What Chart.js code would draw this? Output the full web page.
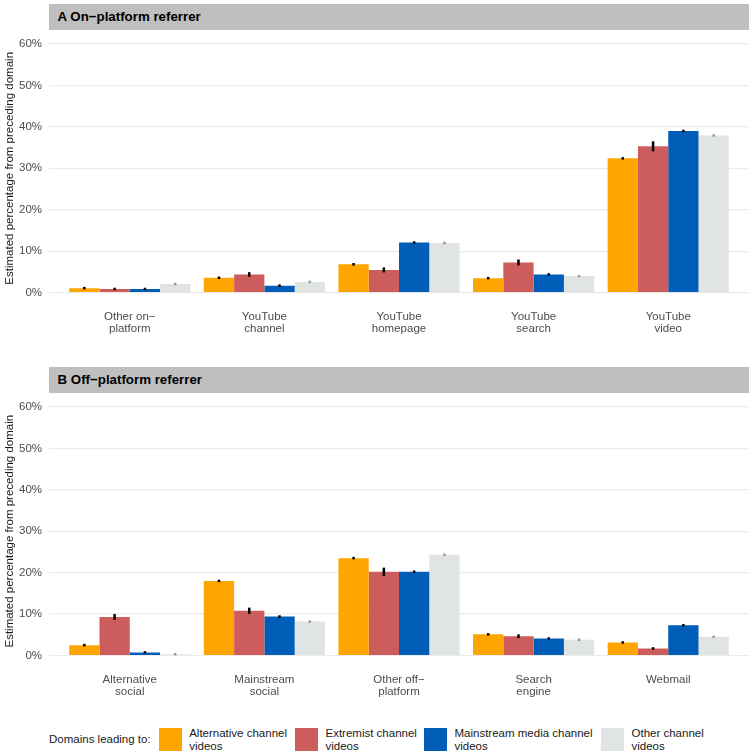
<!doctype html>
<html lang="en">
  <head>
    <meta charset="utf-8">
    <title>Referrer domains</title>
    <style>
      * { margin: 0; padding: 0; font-family: "Liberation Sans", Arial, sans-serif; }
      body { width: 753px; height: 755px; background: #fff; position: relative; overflow: hidden; }
      .strip {
        position: absolute; left: 49px; width: 700px; height: 25.5px;
        background: #BFBFBF; color: #000; font-weight: bold; font-size: 13.3px;
        line-height: 25.5px; padding-left: 8.5px; box-sizing: border-box;
      }
      .box { position: absolute; left: 0; width: 753px; }
      .legend { position: absolute; top: 728px; left: 0; width: 753px; height: 24px; font-size: 11.5px; color: #1a1a1a; }
      .legend .key { position: absolute; top: 0; width: 23px; height: 23px; }
      .legend .lab { position: absolute; top: -1px; line-height: 12.7px; }
      .legend .head { position: absolute; left: 49px; top: 5px; }
    </style>
  </head>
  <body>
    <div class="strip" style="top:4px">A On−platform referrer</div>
    <div class="box" style="top:30px;height:330px"><canvas id="panelA"></canvas></div>
    <div class="strip" style="top:367px">B Off−platform referrer</div>
    <div class="box" style="top:393px;height:330px"><canvas id="panelB"></canvas></div>
    <div class="legend" id="legend">
      <div class="head">Domains leading to:</div>
    </div>
    <script src="https://cdn.jsdelivr.net/npm/chart.js/dist/chart.umd.min.js"></script>
    <script>
    // categories
    const groupsA = [['Other on−', 'platform'], ['YouTube', 'channel'], ['YouTube', 'homepage'], ['YouTube', 'search'], ['YouTube', 'video']];
    const groupsB = [['Alternative', 'social'], ['Mainstream', 'social'], ['Other off−', 'platform'], ['Search', 'engine'], ['Webmail']];

    const seriesNames = [['Alternative channel', 'videos'], ['Extremist channel', 'videos'], ['Mainstream media channel', 'videos'], ['Other channel', 'videos']];
    const seriesColors = ['#FFA500', '#CD5C5C', '#005EB8', '#E1E4E4'];
    const errColors = ['#000', '#000', '#000', '#9a9a9a'];

    // panel A values (%)
    const altA   = [1.1, 3.6, 6.85, 3.5, 32.4];
    const extA   = [0.9, 4.4, 5.5, 7.3, 35.3];
    const mainA  = [0.9, 1.7, 12.1, 4.4, 39.0];
    const otherA = [2.1, 2.6, 12.0, 4.0, 37.9];
    // panel A error half-widths
    const altErrA   = [0.15, 0.2, 0.2, 0.15, 0.3];
    const extErrA   = [0.2, 0.55, 0.6, 0.7, 1.2];
    const mainErrA  = [0.1, 0.1, 0.2, 0.15, 0.3];
    const otherErrA = [0.05, 0.05, 0.05, 0.05, 0.1];

    // panel B values (%)
    const altB   = [2.5, 18.0, 23.5, 5.1, 3.15];
    const extB   = [9.3, 10.8, 20.2, 4.65, 1.7];
    const mainB  = [0.75, 9.4, 20.2, 4.1, 7.3];
    const otherB = [0.3, 8.2, 24.3, 3.8, 4.5];
    // panel B error half-widths
    const altErrB   = [0.15, 0.3, 0.3, 0.15, 0.15];
    const extErrB   = [0.7, 0.75, 1.0, 0.45, 0.3];
    const mainErrB  = [0.1, 0.15, 0.25, 0.15, 0.2];
    const otherErrB = [0.05, 0.05, 0.05, 0.05, 0.05];

    const yTicks = [0, 10, 20, 30, 40, 50, 60];

    const FONT = '"Liberation Sans", Arial, sans-serif';

    // error bars drawn on top of the bars
    const errorBars = {
      id: 'errorBars',
      afterDatasetsDraw(chart) {
        const {ctx, scales: {y}} = chart;
        ctx.save();
        chart.data.datasets.forEach((ds, d) => {
          const meta = chart.getDatasetMeta(d);
          meta.data.forEach((bar, i) => {
            const v = ds.data[i].y, e = ds.errors[i];
            let top = y.getPixelForValue(v + e), bot = y.getPixelForValue(v - e);
            if (bot - top < 2.5) { const m = (top + bot) / 2; top = m - 1.25; bot = m + 1.25; }
            ctx.strokeStyle = errColors[d];
            ctx.lineWidth = 2.5;
            ctx.beginPath();
            ctx.moveTo(bar.x, top);
            ctx.lineTo(bar.x, bot);
            ctx.stroke();
          });
        });
        ctx.restore();
      }
    };

    function makePanel(id, groups, values, errors, xHeight) {
      const datasets = values.map((vals, s) => ({
        label: seriesNames[s].join(' '),
        data: vals.map((v, i) => ({x: i + 1, y: v})),
        errors: errors[s],
        backgroundColor: seriesColors[s],
        borderWidth: 0,
        categoryPercentage: 0.9,
        barPercentage: 1.0
      }));
      return new Chart(document.getElementById(id), {
        type: 'bar',
        data: {datasets},
        options: {
          responsive: true,
          maintainAspectRatio: false,
          animation: false,
          layout: {padding: {top: 11.3, right: 4, left: 0, bottom: 0}},
          plugins: {legend: {display: false}, tooltip: {enabled: false}},
          scales: {
            x: {
              type: 'linear',
              offset: false,
              min: 0.4,
              max: 5.6,
              afterBuildTicks(scale) { scale.ticks = [1, 2, 3, 4, 5].map(v => ({value: v})); },
              afterFit(scale) { scale.height = xHeight; },
              grid: {display: false, drawTicks: false},
              border: {display: false},
              ticks: {
                autoSkip: false,
                maxRotation: 0,
                padding: 18,
                color: '#4D4D4D',
                font: {family: FONT, size: 11.5, lineHeight: 1.05},
                callback: v => groups[v - 1]
              }
            },
            y: {
              min: 0,
              max: 60,
              afterBuildTicks(scale) { scale.ticks = yTicks.map(v => ({value: v})); },
              afterFit(scale) { scale.width = 49; },
              grid: {color: '#EBEBEB', lineWidth: 1.2, drawTicks: false},
              border: {display: false},
              ticks: {
                padding: 7,
                color: '#4D4D4D',
                font: {family: FONT, size: 11.5},
                callback: v => v + '%'
              },
              title: {
                display: true,
                text: 'Estimated percentage from preceding domain',
                color: '#1a1a1a',
                font: {family: FONT, size: 11.5},
                padding: {top: 3, bottom: 2}
              }
            }
          }
        },
        plugins: [errorBars]
      });
    }

    makePanel('panelA', groupsA, [altA, extA, mainA, otherA], [altErrA, extErrA, mainErrA, otherErrA], 67.3);
    makePanel('panelB', groupsB, [altB, extB, mainB, otherB], [altErrB, extErrB, mainErrB, otherErrB], 67.5);

    // legend built from the series
    const legend = document.getElementById('legend');
    const keyX = [158.7, 295, 424, 601];
    seriesNames.forEach((name, s) => {
      const k = document.createElement('div');
      k.className = 'key';
      k.style.left = keyX[s] + 'px';
      k.style.background = seriesColors[s];
      legend.appendChild(k);
      const t = document.createElement('div');
      t.className = 'lab';
      t.style.left = (keyX[s] + 30.5) + 'px';
      t.innerHTML = name.join('<br>');
      legend.appendChild(t);
    });
    </script>
  </body>
</html>
